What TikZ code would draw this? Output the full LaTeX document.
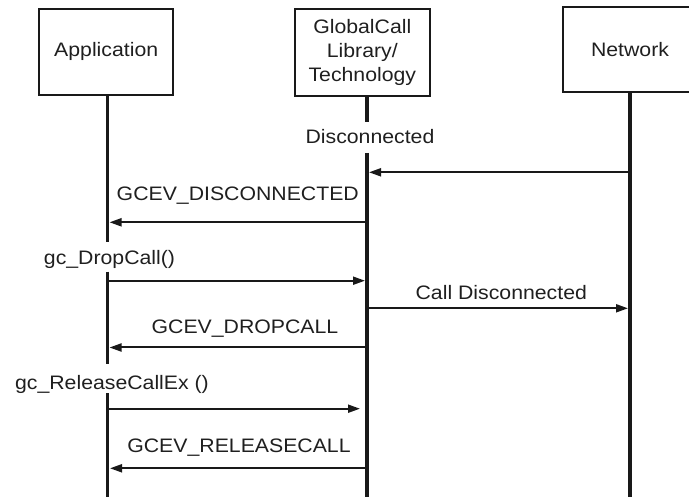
\documentclass[tikz,border=0pt]{standalone}
\usepackage{fontspec}
\setmainfont{Liberation Sans}[FakeStretch=1.09]
\usetikzlibrary{arrows.meta}
\begin{document}
\begin{tikzpicture}[x=1pt,y=-1pt,
  box/.style={draw=black!90, line width=2pt, align=center, inner sep=0pt, text=black!88,
    font=\fontsize{19.5}{24}\selectfont},
  lbl/.style={anchor=base, inner sep=0pt, text=black!88, font=\fontsize{19.5}{24}\selectfont},
  life/.style={line width=3.5pt, draw=black!90},
  msg/.style={line width=2pt, draw=black!90, -{Triangle[length=12pt,width=8pt]}}]
\useasboundingbox (0,0) rectangle (689,497);
\clip (0,0) rectangle (689,497);
% participants
\node[box, minimum width=134pt, minimum height=86pt] (app) at (106.2,51.7) {Application};
\node[box, minimum width=134.7pt, minimum height=86.4pt] (gc) at (362.3,52.5) {GlobalCall\\Library/\\Technology};
\node[box, minimum width=133.4pt, minimum height=84.7pt] (net) at (630,49.7) {Network};
% lifeline x positions
\coordinate (appL) at (107.5,0);
\coordinate (gcL) at (366.8,0);
\coordinate (netL) at (630,0);
% lifeline break points
\coordinate (appB1) at (107.5,242.3);
\coordinate (appB2) at (107.5,271.7);
\coordinate (appB3) at (107.5,364.3);
\coordinate (appB4) at (107.5,393.3);
\coordinate (appE) at (107.5,497);
\coordinate (gcB1) at (366.8,122);
\coordinate (gcB2) at (366.8,153);
\coordinate (gcE) at (366.8,497);
\coordinate (netE) at (630,497);
% lifelines
\draw[life] (app.south -| appL) -- (appB1);
\draw[life] (appB2) -- (appB3);
\draw[life] (appB4) -- (appE);
\draw[life] (gc.south -| gcL) -- (gcB1);
\draw[life] (gcB2) -- (gcE);
\draw[life] (net.south -| netL) -- (netE);
% state label
\node[lbl] (disc) at (370,144) {Disconnected};
% message end points
\coordinate (n1) at (631,172.3);   \coordinate (g1) at (369,172.3);
\coordinate (g2) at (366.8,222.3); \coordinate (a2) at (109.5,222.3);
\coordinate (a3) at (107.5,280.7); \coordinate (g3) at (365,280.7);
\coordinate (g4) at (366.8,308.3); \coordinate (n4) at (628,308.3);
\coordinate (g5) at (366.8,347.5); \coordinate (a5) at (109.5,347.5);
\coordinate (a6) at (107.5,408.7); \coordinate (g6) at (360,408.7);
\coordinate (g7) at (366.8,468.3); \coordinate (a7) at (110,468.3);
% messages
\draw[msg] (n1) -- (g1);
\draw[msg] (g2) -- (a2);
\draw[msg] (a3) -- (g3);
\draw[msg] (g4) -- (n4);
\draw[msg] (g5) -- (a5);
\draw[msg] (a6) -- (g6);
\draw[msg] (g7) -- (a7);
% message labels
\node[lbl] (l2) at (237.8,200.7) {GCEV\_DISCONNECTED};
\node[lbl] (l3) at (109.5,265) {gc\_DropCall()};
\node[lbl] (l4) at (501.3,300) {Call Disconnected};
\node[lbl] (l5) at (245,333.3) {GCEV\_DROPCALL};
\node[lbl] (l6) at (112,389.3) {gc\_ReleaseCallEx ()};
\node[lbl] (l7) at (239,452.7) {GCEV\_RELEASECALL};
\end{tikzpicture}
\end{document}
